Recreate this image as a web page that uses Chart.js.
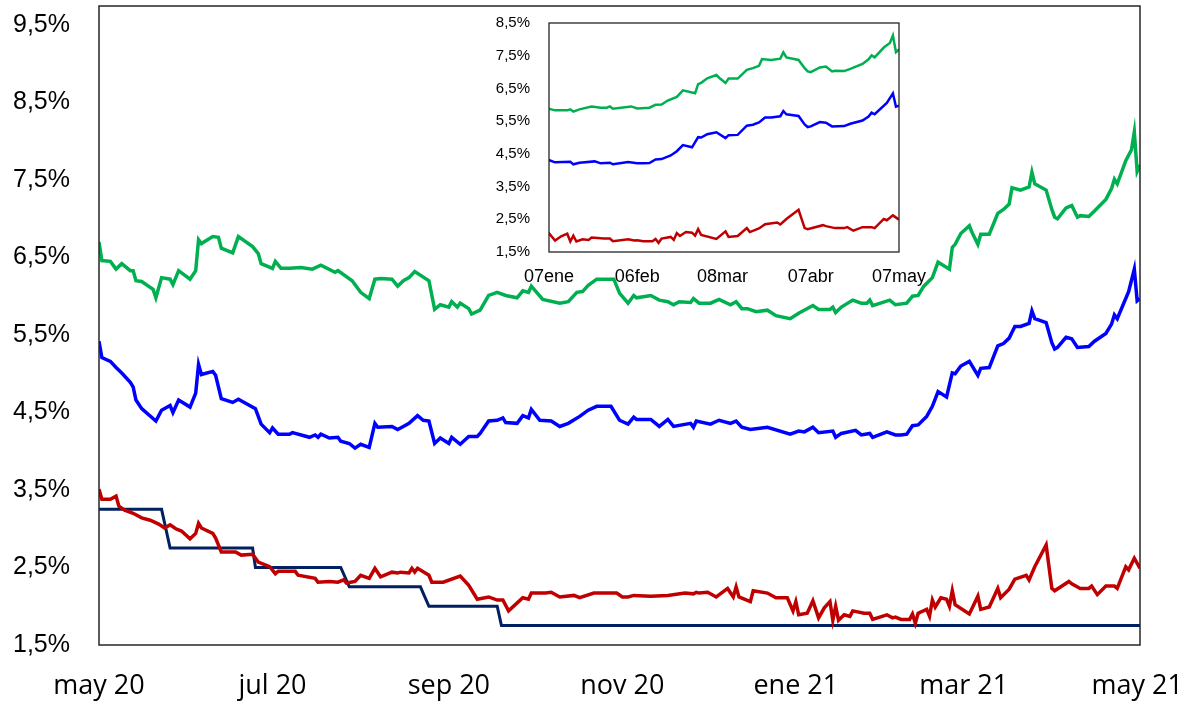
<!DOCTYPE html>
<html>
<head>
<meta charset="utf-8">
<script src="https://cdn.jsdelivr.net/npm/chart.js@4.4.1/dist/chart.umd.min.js"></script>
<style>
  body { margin: 0; background: #fff; }
  #wrap { position: relative; width: 1191px; height: 702px; }
  #principal { position: absolute; left: 0; top: 0; }
  #detalle { position: absolute; left: 440px; top: 0; }
</style>
</head>
<body>
<div id="wrap">
  <canvas id="principal" width="1191" height="702"></canvas>
  <canvas id="detalle" width="520" height="300"></canvas>
</div>
<script>
// dias desde el 1 may 2020 (eje x) y valores en %
var verdeDias = [0,1,4,6,8,11,12,13,15,19,20,22,25,26,28,32,34,35,36,40,42,43,47,49,54,56,57,61,62,64,67,71,75,78,83,84,89,92,95,97,99,103,105,107,109,111,116,118,120,123,124,126,127,130,131,134,137,140,143,147,149,151,152,156,162,165,168,170,172,175,181,183,186,188,189,194,197,200,202,204,208,209,211,215,218,222,224,226,228,231,235,238,243,246,251,253,257,258,259,261,265,268,270,271,272,278,280,284,286,288,290,293,295,299,300,301,303,306,307,309,310,313,316,318,320,321,324,327,328,329,333,335,336,337,340,342,344,345,348,350,354,356,357,358,361,363,364,365,366];
var verdeValores = [6.70,6.46,6.45,6.35,6.42,6.33,6.33,6.20,6.19,6.09,5.98,6.24,6.22,6.15,6.33,6.22,6.33,6.73,6.68,6.77,6.76,6.62,6.56,6.77,6.64,6.55,6.42,6.36,6.45,6.36,6.36,6.37,6.35,6.40,6.31,6.33,6.20,6.05,5.97,6.22,6.23,6.22,6.13,6.20,6.24,6.32,6.20,5.83,5.89,5.86,5.93,5.86,5.91,5.84,5.77,5.82,6.01,6.05,6.01,5.98,6.07,6.05,6.13,5.96,5.91,5.93,6.05,6.06,6.14,6.22,6.22,6.04,5.91,6.01,5.98,6.01,5.95,5.93,5.89,5.93,5.92,5.97,5.91,5.91,5.96,5.89,5.93,5.84,5.84,5.80,5.82,5.75,5.71,5.78,5.88,5.83,5.83,5.86,5.79,5.86,5.95,5.91,5.91,5.95,5.88,5.95,5.89,5.91,6.00,6.01,6.13,6.24,6.44,6.35,6.63,6.67,6.81,6.91,6.82,6.67,6.80,6.80,7.07,7.12,7.19,7.40,7.37,7.41,7.60,7.45,7.37,7.12,7.02,7.00,7.14,7.17,7.02,7.04,7.03,7.10,7.25,7.39,7.51,7.45,7.75,7.89,8.12,7.61,7.69];

var azulDias = [0,1,4,6,8,11,12,13,15,20,22,25,26,28,32,34,35,36,40,41,43,47,49,55,57,60,61,63,67,68,74,76,77,78,81,84,85,88,90,92,95,97,98,103,105,107,109,112,114,116,118,120,123,124,127,130,133,134,137,140,142,143,147,149,151,152,155,159,162,165,169,172,175,180,183,186,188,189,194,197,200,202,208,209,210,215,218,222,224,226,229,235,243,246,248,251,253,258,259,261,266,268,271,272,277,280,282,284,286,288,291,293,295,298,300,301,303,306,309,310,313,316,318,320,322,324,327,328,329,333,335,336,337,340,342,344,348,350,354,356,357,358,362,364,365,366];
var azulValores = [5.42,5.21,5.16,5.08,5.01,4.89,4.83,4.66,4.55,4.39,4.53,4.59,4.50,4.66,4.57,4.75,5.12,4.99,5.03,4.98,4.68,4.63,4.67,4.55,4.35,4.24,4.30,4.22,4.22,4.24,4.18,4.21,4.18,4.22,4.17,4.18,4.13,4.10,4.04,4.09,4.05,4.36,4.31,4.32,4.28,4.32,4.36,4.46,4.40,4.39,4.10,4.17,4.10,4.18,4.09,4.19,4.19,4.23,4.39,4.40,4.43,4.37,4.36,4.46,4.43,4.54,4.40,4.39,4.32,4.36,4.45,4.53,4.58,4.58,4.40,4.35,4.44,4.41,4.41,4.32,4.41,4.32,4.36,4.31,4.39,4.35,4.40,4.36,4.39,4.31,4.28,4.31,4.22,4.26,4.25,4.31,4.24,4.26,4.18,4.23,4.27,4.21,4.23,4.18,4.25,4.21,4.21,4.22,4.33,4.34,4.45,4.58,4.77,4.70,5.01,5.00,5.10,5.16,4.98,5.07,5.08,5.36,5.39,5.46,5.61,5.61,5.65,5.81,5.71,5.66,5.40,5.32,5.34,5.47,5.45,5.34,5.35,5.42,5.52,5.64,5.76,5.71,6.06,6.35,5.94,5.97];

var rojoDias = [0,1,4,6,7,9,12,15,18,21,23,25,27,29,32,34,35,36,40,41,43,48,50,54,56,60,62,63,69,70,76,77,81,84,86,87,90,92,95,97,99,103,105,106,109,110,111,112,116,117,121,127,130,133,137,140,142,144,149,151,152,157,159,162,167,169,174,182,184,186,188,194,200,206,209,210,211,214,217,221,223,224,225,229,230,235,238,242,244,245,246,249,251,253,255,257,258,259,260,262,264,265,269,271,272,277,279,280,282,285,286,287,288,291,292,293,294,296,298,299,300,301,306,309,310,313,316,317,320,322,326,327,329,333,335,336,341,342,345,348,349,351,354,357,358,361,362,364,366];
var rojoValores = [3.51,3.38,3.38,3.42,3.29,3.24,3.20,3.14,3.11,3.06,3.01,3.05,3.00,2.97,2.87,2.94,3.07,3.01,2.94,2.88,2.70,2.70,2.66,2.67,2.57,2.51,2.42,2.45,2.45,2.40,2.36,2.31,2.32,2.31,2.34,2.30,2.32,2.40,2.36,2.49,2.38,2.44,2.43,2.44,2.43,2.49,2.44,2.49,2.40,2.31,2.31,2.39,2.27,2.09,2.12,2.08,2.08,1.94,2.11,2.09,2.17,2.17,2.18,2.12,2.14,2.11,2.17,2.17,2.12,2.12,2.14,2.13,2.14,2.17,2.16,2.18,2.17,2.18,2.12,2.23,2.12,2.25,2.12,2.06,2.20,2.17,2.11,2.11,1.94,2.06,1.89,1.91,2.07,1.85,1.98,2.06,1.82,2.00,1.82,1.89,1.87,1.94,1.91,1.91,1.83,1.89,1.85,1.86,1.83,1.83,1.90,1.78,1.91,1.96,1.87,2.08,1.99,2.11,2.09,2.00,2.20,2.02,1.90,2.13,1.96,1.99,2.23,2.11,2.22,2.35,2.40,2.34,2.51,2.79,2.23,2.20,2.32,2.29,2.23,2.23,2.26,2.15,2.26,2.26,2.23,2.51,2.47,2.62,2.49];

// tipo oficial (escalones)
var tipoDias = [0,22,25,54,55,85,88,113,116,140,141.5,366];
var tipoValores = [3.25,3.25,2.75,2.75,2.5,2.5,2.25,2.25,2.0,2.0,1.75,1.75];

var ejeXDias = [0,61,123,184,245,304,365];
var ejeXEtiquetas = ['may 20','jul 20','sep 20','nov 20','ene 21','mar 21','may 21'];
var ejeYPrincipal = [1.5,2.5,3.5,4.5,5.5,6.5,7.5,8.5,9.5];

var detalleXDias = [251,280,308,337,366];
var detalleXEtiquetas = ['07ene','06feb','08mar','07abr','07may'];
var detalleYTicks = [1.5,2.5,3.5,4.5,5.5,6.5,7.5,8.5];

function puntos(dias, valores) {
    var lista = [];
    for (var i = 0; i < dias.length; i++) {
        lista.push({ x: dias[i], y: valores[i] });
    }
    return lista;
}

function porcentaje(v) {
    return v.toFixed(1).replace('.', ',') + '%';
}

// marco negro alrededor del area de trazado
const marco = {
    id: 'marco',
    afterDatasetsDraw(chart, args, opts) {
        const a = chart.chartArea;
        const ctx = chart.ctx;
        ctx.save();
        ctx.strokeStyle = '#262626';
        ctx.lineWidth = opts.ancho || 1.5;
        ctx.strokeRect(a.left, a.top, a.right - a.left, a.bottom - a.top);
        ctx.restore();
    }
};

function serie(dias, valores, color, ancho) {
    return {
        data: puntos(dias, valores),
        borderColor: color,
        backgroundColor: color,
        borderWidth: ancho,
        pointRadius: 0,
        tension: 0,
        fill: false
    };
}

const configPrincipal = {
    type: 'line',
    data: {
        datasets: [
            serie(verdeDias, verdeValores, '#00B050', 3.5),
            serie(azulDias, azulValores, '#0000FF', 3.5),
            serie(rojoDias, rojoValores, '#C00000', 3.5),
            serie(tipoDias, tipoValores, '#002060', 3)
        ]
    },
    options: {
        responsive: false,
        animation: false,
        devicePixelRatio: 1,
        layout: { padding: { left: 0, right: 51, top: 6, bottom: 0 } },
        plugins: {
            legend: { display: false },
            tooltip: { enabled: false },
            marco: { ancho: 1.5 }
        },
        scales: {
            x: {
                type: 'linear',
                min: 0,
                max: 366,
                grid: { display: false, drawTicks: false },
                border: { display: false },
                afterBuildTicks: function (scale) {
                    scale.ticks = ejeXDias.map(v => ({ value: v }));
                },
                afterFit: function (scale) {
                    scale.height = 57;
                    scale.paddingLeft = 0;
                    scale.paddingRight = 0;
                },
                ticks: {
                    autoSkip: false,
                    maxRotation: 0,
                    padding: 25,
                    color: '#000',
                    font: { family: "'Open Sans', sans-serif", size: 27 },
                    callback: function (v) {
                        var i = ejeXDias.indexOf(v);
                        return i >= 0 ? ejeXEtiquetas[i] : '';
                    }
                }
            },
            y: {
                type: 'linear',
                min: 1.5,
                max: 9.745,
                grid: { display: false, drawTicks: false },
                border: { display: false },
                afterBuildTicks: function (scale) {
                    scale.ticks = ejeYPrincipal.map(v => ({ value: v }));
                },
                afterFit: function (scale) {
                    scale.width = 99;
                    scale.paddingTop = 0;
                    scale.paddingBottom = 0;
                },
                ticks: {
                    padding: 29,
                    color: '#000',
                    font: { family: "'Liberation Sans', Arial, sans-serif", size: 25 },
                    callback: function (v) { return porcentaje(v); }
                }
            }
        }
    },
    plugins: [marco]
};

const configDetalle = {
    type: 'line',
    data: {
        datasets: [
            serie(verdeDias, verdeValores, '#00B050', 2.5),
            serie(azulDias, azulValores, '#0000FF', 2.5),
            serie(rojoDias, rojoValores, '#C00000', 2.5)
        ]
    },
    options: {
        responsive: false,
        animation: false,
        devicePixelRatio: 1,
        layout: { padding: { left: 0, right: 61, top: 23, bottom: 0 } },
        plugins: {
            legend: { display: false },
            tooltip: { enabled: false },
            marco: { ancho: 1.3 }
        },
        scales: {
            x: {
                type: 'linear',
                min: 251,
                max: 366,
                grid: { display: false, drawTicks: false },
                border: { display: false },
                afterBuildTicks: function (scale) {
                    scale.ticks = detalleXDias.map(v => ({ value: v }));
                },
                afterFit: function (scale) {
                    scale.height = 48;
                    scale.paddingLeft = 0;
                    scale.paddingRight = 0;
                },
                ticks: {
                    autoSkip: false,
                    maxRotation: 0,
                    padding: 14,
                    color: '#000',
                    font: { family: "'Liberation Sans', Arial, sans-serif", size: 18 },
                    callback: function (v) {
                        var i = detalleXDias.indexOf(v);
                        return i >= 0 ? detalleXEtiquetas[i] : '';
                    }
                }
            },
            y: {
                type: 'linear',
                min: 1.5,
                max: 8.5,
                grid: { display: false, drawTicks: false },
                border: { display: false },
                afterBuildTicks: function (scale) {
                    scale.ticks = detalleYTicks.map(v => ({ value: v }));
                },
                afterFit: function (scale) {
                    scale.width = 109;
                    scale.paddingTop = 0;
                    scale.paddingBottom = 0;
                },
                ticks: {
                    padding: 19,
                    color: '#000',
                    font: { family: "'Liberation Sans', Arial, sans-serif", size: 15 },
                    callback: function (v) { return porcentaje(v); }
                }
            }
        }
    },
    plugins: [marco]
};

const graficoPrincipal = new Chart(document.getElementById('principal'), configPrincipal);
const graficoDetalle = new Chart(document.getElementById('detalle'), configDetalle);
</script>
</body>
</html>
